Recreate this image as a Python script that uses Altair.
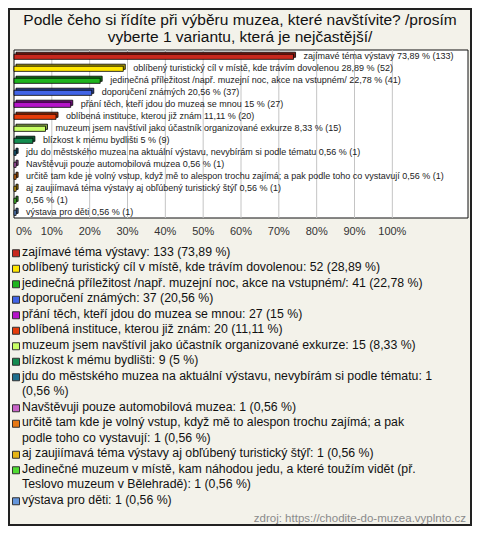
import textwrap
import altair as alt
import pandas as pd

title_lines = [
    "Podle čeho si řídíte při výběru muzea, které navštívite? /prosím",
    "vyberte 1 variantu, která je nejčastější/",
]
labels = [
    "zajímavé téma výstavy",
    "oblíbený turistický cíl v místě, kde trávím dovolenou",
    "jedinečná příležitost /např. muzejní noc, akce na vstupném/",
    "doporučení známých",
    "přání těch, kteří jdou do muzea se mnou",
    "oblíbená instituce, kterou již znám",
    "muzeum jsem navštívil jako účastník organizované exkurze",
    "blízkost k mému bydlišti",
    "jdu do městského muzea na aktuální výstavu, nevybírám si podle tématu",
    "Navštěvuji pouze automobilová muzea",
    "určitě tam kde je volný vstup, když mě to alespon trochu zajímá; a pak podle toho co vystavují",
    "aj zaujiímavá téma výstavy aj obľúbený turistický štýľ",
    "Jedinečné muzeum v místě, kam náhodou jedu, a které toužím vidět (př. Teslovo muzeum v Bělehradě)",
    "výstava pro děti",
]
bar_names = labels[:12] + ["", labels[13]]
counts = [133, 52, 41, 37, 27, 20, 15, 9, 1, 1, 1, 1, 1, 1]
percents = [73.89, 28.89, 22.78, 20.56, 15, 11.11, 8.33, 5, 0.56, 0.56, 0.56, 0.56, 0.56, 0.56]
colors = [
    "#c8281e", "#ffe600", "#1eb41e", "#4164e6", "#b414c8", "#e63c0a", "#c8ff64",
    "#148c50", "#1e6e8c", "#c864c8", "#e67814", "#e6b414", "#50dc32", "#6496dc",
]
tick_values = [0, 10, 20, 30, 40, 50, 60, 70, 80, 90, 100]
source = "zdroj: https://chodite-do-muzea.vyplnto.cz"

FONT = "Liberation Sans"


def darker(hexc, f=0.65):
    r, g, b = (int(hexc[i:i + 2], 16) for i in (1, 3, 5))
    return "#%02x%02x%02x" % (int(r * f), int(g * f), int(b * f))


def fmt(p):
    return f"{p:g}".replace(".", ",")


rows = []
line = 0
for i, (lab, bn, c, p, col) in enumerate(zip(labels, bar_names, counts, percents, colors)):
    bar_text = (bn + " " if bn else "") + f"{fmt(p)} % ({c})"
    leg = textwrap.wrap(f"{lab}: {c} ({fmt(p)} %)", 73)
    rows.append(dict(
        row=i, pct=p, zero=0, color=col, dark=darker(col),
        y0=i - 0.15, y1=i + 0.28,
        barText=bar_text, legText="\n".join(leg),
        start=line, mid=line + 0.5,
    ))
    line += len(leg)
df = pd.DataFrame(rows)
ticks = pd.DataFrame({"t": tick_values, "tl": [f"{t}%" for t in tick_values]})

LH = 15.5
xs = alt.Scale(domain=[0, 120], range=[6, 460])
ys = alt.Scale(domain=[-0.5, 13.5], range=[42, 210])
ly = alt.Scale(domain=[0, 17], range=[237.5, 237.5 + 17 * LH])
ty = alt.Scale(domain=[0, 1], range=[12, 29])

one = pd.DataFrame({"a": [0]})

border = alt.Chart(one).mark_rect(fillOpacity=0, stroke="#222", strokeWidth=2).encode(
    x=alt.value(1), x2=alt.value(463), y=alt.value(1), y2=alt.value(517))

title = alt.Chart(pd.DataFrame({"i": [0, 1], "s": title_lines})).mark_text(
    font=FONT, fontSize=15.5, color="#111", align="center", baseline="middle").encode(
    x=alt.value(232), y=alt.Y("i:Q", scale=ty, axis=None), text="s:N")

frame = alt.Chart(one).mark_rect(fill="white", stroke="#111", strokeWidth=1).encode(
    x=alt.value(6), x2=alt.value(460), y=alt.value(42), y2=alt.value(210))

grid = alt.Chart(ticks[ticks.t > 0]).mark_rule(color="#c4c4c4", strokeWidth=1).encode(
    x=alt.X("t:Q", scale=xs, axis=None), y=alt.value(42), y2=alt.value(210))

back = alt.Chart(df).mark_rect(xOffset=2, x2Offset=2, yOffset=-2, y2Offset=-2,
                               stroke="#000", strokeWidth=0.8).encode(
    x=alt.X("zero:Q", scale=xs, axis=None), x2="pct:Q",
    y=alt.Y("y0:Q", scale=ys, axis=None), y2="y1:Q",
    fill=alt.Fill("dark:N", scale=None))

front = alt.Chart(df).mark_rect(stroke="#000", strokeWidth=0.8).encode(
    x=alt.X("zero:Q", scale=xs, axis=None), x2="pct:Q",
    y=alt.Y("y0:Q", scale=ys, axis=None), y2="y1:Q",
    fill=alt.Fill("color:N", scale=None))

bar_text = alt.Chart(df).mark_text(font=FONT, fontSize=9, color="#222", align="left",
                                   baseline="middle", dx=10).encode(
    x=alt.X("pct:Q", scale=xs, axis=None), y=alt.Y("row:Q", scale=ys, axis=None),
    text="barText:N")

tick_lab = alt.Chart(ticks[ticks.t > 0]).mark_text(font=FONT, fontSize=11, color="#333",
                                                   align="center", baseline="middle").encode(
    x=alt.X("t:Q", scale=xs, axis=None), y=alt.value(224), text="tl:N")
tick_lab0 = alt.Chart(ticks[ticks.t == 0]).mark_text(font=FONT, fontSize=11, color="#333",
                                                     align="left", baseline="middle", dx=2).encode(
    x=alt.X("t:Q", scale=xs, axis=None), y=alt.value(224), text="tl:N")

leg_sq = alt.Chart(df).mark_square(size=49, stroke="#333", strokeWidth=1, opacity=1).encode(
    x=alt.value(8), y=alt.Y("mid:Q", scale=ly, axis=None), fill=alt.Fill("color:N", scale=None))

leg_text = alt.Chart(df).mark_text(font=FONT, fontSize=12.3, color="#111", align="left",
                                   baseline="top", lineBreak="\n", lineHeight=LH).encode(
    x=alt.value(14), y=alt.Y("start:Q", scale=ly, axis=None), text="legText:N")

src = alt.Chart(pd.DataFrame({"s": [source]})).mark_text(
    font=FONT, fontSize=11.5, color="#8a8a8a", align="right", baseline="middle").encode(
    x=alt.value(458), y=alt.value(511), text="s:N")

chart = alt.layer(
    border, title, frame, grid, back, front, bar_text, tick_lab, tick_lab0,
    leg_sq, leg_text, src,
).resolve_scale(x="independent", y="independent").properties(
    width=464, height=518, padding=0,
    autosize=alt.AutoSizeParams(type="none"),
    background="#f3f2ea",
).configure_view(stroke=None)

chart.save("out.html", embed_options={"renderer": "svg", "actions": False})
